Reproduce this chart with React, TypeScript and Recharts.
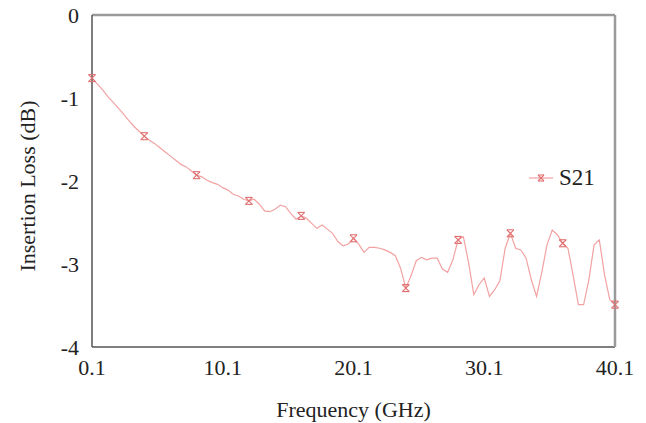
import React from "react";
import { Legend, Line, LineChart, XAxis, YAxis } from "recharts";

const FONT = "Liberation Serif, DejaVu Serif, Noto Serif, Times New Roman, serif";
const LINE = "#f2a2a2";
const MARK = "#e07070";

// sweep points, GHz
const FREQ = [
  0.1, 0.5, 0.9, 1.3, 1.7, 2.1, 2.5, 2.9, 3.3, 3.7,
  4.1, 4.5, 4.9, 5.3, 5.7, 6.1, 6.5, 6.9, 7.3, 7.7,
  8.1, 8.5, 8.9, 9.3, 9.7, 10.1, 10.5, 10.9, 11.3, 11.7,
  12.1, 12.5, 12.9, 13.3, 13.7, 14.1, 14.5, 14.9, 15.3, 15.7,
  16.1, 16.5, 16.9, 17.3, 17.7, 18.1, 18.5, 18.9, 19.3, 19.7,
  20.1, 20.5, 20.9, 21.3, 21.7, 22.1, 22.5, 22.9, 23.3, 23.7,
  24.1, 24.5, 24.9, 25.3, 25.7, 26.1, 26.5, 26.9, 27.3, 27.7,
  28.1, 28.5, 28.9, 29.3, 29.7, 30.1, 30.5, 30.9, 31.3, 31.7,
  32.1, 32.5, 32.9, 33.3, 33.7, 34.1, 34.5, 34.9, 35.3, 35.7,
  36.1, 36.5, 36.9, 37.3, 37.7, 38.1, 38.5, 38.9, 39.3, 39.7,
  40.1,
];

// S21, dB
const S21 = [
  -0.76, -0.83, -0.9, -0.98, -1.05, -1.12, -1.19, -1.27, -1.34, -1.4,
  -1.46, -1.51, -1.55, -1.6, -1.65, -1.7, -1.75, -1.8, -1.83, -1.88,
  -1.93, -1.95, -1.99, -2.02, -2.04, -2.08, -2.11, -2.16, -2.18, -2.22,
  -2.24, -2.22, -2.28, -2.36, -2.37, -2.34, -2.29, -2.31, -2.39, -2.46,
  -2.42, -2.45, -2.51, -2.57, -2.53, -2.58, -2.63, -2.73, -2.78, -2.76,
  -2.69, -2.76, -2.86, -2.8, -2.8, -2.81, -2.83, -2.86, -2.9, -3.05,
  -3.29, -3.14, -2.96, -2.92, -2.95, -2.93, -2.93, -3.06, -3.1, -2.95,
  -2.71, -2.67, -2.98, -3.37, -3.25, -3.17, -3.39, -3.31, -3.2, -2.81,
  -2.63, -2.81, -2.83, -2.93, -3.19, -3.39, -3.1, -2.77, -2.59, -2.65,
  -2.75, -2.81, -3.14, -3.49, -3.49, -3.19, -2.77, -2.71, -3.13, -3.43,
  -3.49,
];

const MARKER_FREQ = [0.1, 4.1, 8.1, 12.1, 16.1, 20.1, 24.1, 28.1, 32.1, 36.1, 40.1];
const X_TICKS = [0.1, 10.1, 20.1, 30.1, 40.1];
const Y_TICKS = [0, -1, -2, -3, -4];

const data = FREQ.map((f, i) => ({ f, s21: S21[i] }));

function Marker({ cx, cy, r = 3.5 }: { cx: number; cy: number; r?: number }) {
  return (
    <g stroke={MARK} strokeWidth={1.1} fill="none">
      <line x1={cx - r} y1={cy - r} x2={cx + r} y2={cy + r} />
      <line x1={cx - r} y1={cy + r} x2={cx + r} y2={cy - r} />
      <line x1={cx - r} y1={cy - r} x2={cx + r} y2={cy - r} />
      <line x1={cx - r} y1={cy + r} x2={cx + r} y2={cy + r} />
    </g>
  );
}

function Dot(props: any) {
  const { cx, cy, payload, index } = props;
  if (!MARKER_FREQ.includes(payload.f)) return <g key={index} />;
  return <Marker key={index} cx={cx} cy={cy} />;
}

function LegendBox() {
  return (
    <div style={{ display: "flex", alignItems: "center", fontFamily: FONT, fontSize: 23, color: "#222" }}>
      <svg width={28} height={20}>
        <line x1={2} y1={10} x2={26} y2={10} stroke={LINE} strokeWidth={1.2} />
        <Marker cx={14} cy={10} r={3} />
      </svg>
      <span style={{ marginLeft: 4 }}>S21</span>
    </div>
  );
}

export default function App() {
  const tick = { fill: "#222", fontSize: 22, style: { fontFamily: FONT } };
  return (
    <div style={{ position: "absolute", left: 0, top: 0, width: 646, height: 423, background: "#fff", fontFamily: FONT }}>
      <LineChart width={646} height={423} data={data} margin={{ top: 14, right: 30, left: 0, bottom: 0 }} style={{ fontFamily: FONT }}>
        <XAxis
          xAxisId="b"
          dataKey="f"
          type="number"
          domain={[0.1, 40.1]}
          ticks={X_TICKS}
          axisLine={{ stroke: "#555", strokeWidth: 1.5 }}
          tickLine={false}
          tickSize={0}
          tickMargin={12}
          tick={tick}
          height={76}
          label={{ value: "Frequency (GHz)", position: "insideBottom", offset: 6, fill: "#222", fontSize: 22, style: { fontFamily: FONT } }}
        />
        <XAxis
          xAxisId="t"
          orientation="top"
          dataKey="f"
          type="number"
          domain={[0.1, 40.1]}
          tick={false}
          tickLine={false}
          axisLine={{ stroke: "#9a9a9a", strokeWidth: 2.5 }}
          height={1}
        />
        <YAxis
          yAxisId="l"
          domain={[-4, 0]}
          ticks={Y_TICKS}
          axisLine={{ stroke: "#555", strokeWidth: 1.5 }}
          tickLine={false}
          tickSize={0}
          tickMargin={13}
          tick={tick}
          width={92}
          label={{
            content: () => (
              <text
                x={27}
                y={186}
                transform="rotate(-90 27 186)"
                textAnchor="middle"
                dominantBaseline="central"
                fill="#222"
                fontSize={22}
                style={{ fontFamily: FONT }}
              >
                Insertion Loss (dB)
              </text>
            ),
          }}
        />
        <YAxis
          yAxisId="r"
          orientation="right"
          domain={[-4, 0]}
          tick={false}
          tickLine={false}
          axisLine={{ stroke: "#9a9a9a", strokeWidth: 2.5 }}
          width={1}
        />
        <Legend
          layout="vertical"
          align="center"
          verticalAlign="middle"
          content={<LegendBox />}
          wrapperStyle={{ left: 527, top: 165, width: 90, height: 28 }}
        />
        <Line
          xAxisId="b"
          yAxisId="l"
          type="linear"
          dataKey="s21"
          name="S21"
          stroke={LINE}
          strokeWidth={1.2}
          dot={Dot}
          activeDot={false}
          isAnimationActive={false}
        />
      </LineChart>
    </div>
  );
}
